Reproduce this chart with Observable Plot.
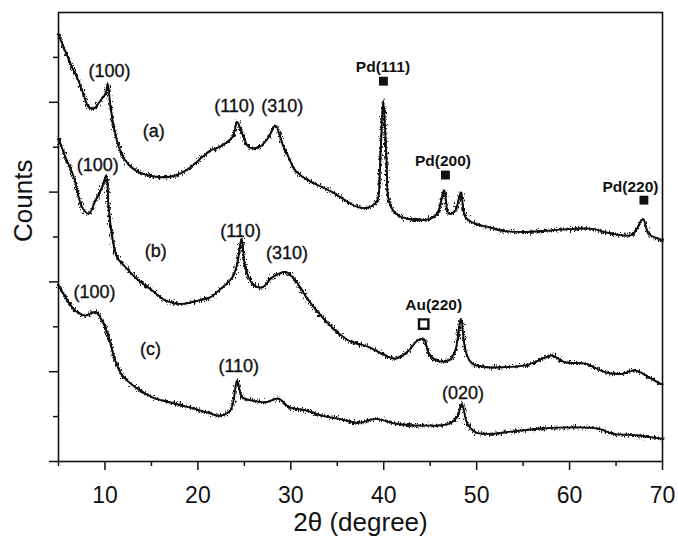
<!DOCTYPE html>
<html>
<head>
<meta charset="utf-8">
<script src="https://cdn.jsdelivr.net/npm/d3@7"></script>
<script src="https://cdn.jsdelivr.net/npm/@observablehq/plot@0.6"></script>
<style>
  html, body { margin: 0; padding: 0; background: #fff; }
  #chart svg { display: block; font-family: "Liberation Sans", Arial, sans-serif; }
</style>
</head>
<body>
<div id="chart"></div>
<script>
// Curve (a)
const aX = [5.0, 5.4, 5.9, 6.47, 7.0, 7.55, 8.26, 8.8, 9.52, 10.06, 10.3, 10.6, 10.95, 11.5, 12.2, 13.3, 14.7, 16.15, 17.6, 19.0, 20.47, 21.36, 22.26, 23.7, 24.23, 24.77, 25.5, 26.6, 27.6, 28.35, 29.1, 29.6, 30.5, 31.9, 33.4, 34.8, 35.9, 37.3, 38.4, 39.3, 39.55, 39.95, 40.3, 40.55, 41.3, 42.7, 44.85, 45.76, 46.5, 47.0, 47.7, 48.3, 48.8, 49.9, 51.3, 52.7, 55.25, 57.4, 60.3, 62.4, 64.6, 66.75, 67.9, 68.5, 69.8, 70.0];
const aY = [9.53, 9.3, 9.05, 8.78, 8.55, 8.26, 7.89, 7.86, 8.04, 8.19, 8.41, 7.89, 7.45, 7.0, 6.70, 6.48, 6.37, 6.33, 6.37, 6.52, 6.78, 6.93, 7.0, 7.22, 7.56, 7.3, 7.0, 7.0, 7.22, 7.48, 7.07, 6.85, 6.48, 6.26, 6.11, 5.96, 5.81, 5.66, 5.66, 5.81, 6.33, 8.04, 6.70, 5.81, 5.52, 5.40, 5.40, 5.52, 6.04, 5.52, 5.59, 6.0, 5.44, 5.29, 5.22, 5.14, 5.11, 5.14, 5.18, 5.18, 5.07, 5.05, 5.40, 5.07, 4.94, 4.92];
// Curve (b)
const bX = [5.0, 5.75, 6.65, 7.55, 8.26, 8.98, 9.7, 10.13, 10.4, 10.78, 11.3, 12.2, 13.64, 15.1, 16.5, 18.3, 20.1, 21.36, 22.26, 23.7, 24.23, 24.7, 25.1, 25.85, 26.9, 28.0, 29.4, 30.5, 31.9, 33.4, 34.8, 36.25, 37.3, 38.4, 39.8, 41.3, 42.7, 43.6, 44.3, 44.85, 45.6, 47.0, 47.7, 48.3, 48.8, 49.5, 51.3, 52.7, 55.25, 57.1, 58.1, 59.5, 61.7, 63.8, 65.6, 67.05, 68.5, 69.8, 70.0];
const bY = [7.2, 6.78, 6.33, 5.66, 5.52, 5.81, 6.11, 6.37, 5.66, 5.0, 4.55, 4.33, 4.03, 3.81, 3.59, 3.51, 3.59, 3.66, 3.81, 4.10, 4.40, 4.96, 4.33, 3.96, 3.88, 4.10, 4.22, 4.03, 3.59, 3.21, 2.92, 2.69, 2.62, 2.55, 2.40, 2.29, 2.47, 2.69, 2.73, 2.40, 2.25, 2.25, 2.47, 3.18, 2.47, 2.18, 2.10, 2.10, 2.14, 2.29, 2.36, 2.21, 2.18, 1.99, 1.95, 2.03, 1.88, 1.73, 1.72];
// Curve (c)
const cX = [5.0, 5.75, 6.8, 7.9, 8.98, 9.7, 10.4, 11.1, 11.85, 13.3, 15.1, 16.9, 19.0, 21.2, 22.26, 23.5, 24.23, 24.77, 25.85, 27.3, 28.7, 29.8, 31.6, 33.4, 35.2, 37.3, 39.1, 41.3, 44.1, 47.0, 47.9, 48.4, 49.0, 49.9, 52.0, 53.1, 56.7, 60.3, 63.1, 64.6, 67.4, 69.8, 70.0];
const cY = [3.92, 3.66, 3.36, 3.25, 3.33, 3.14, 2.77, 2.25, 1.92, 1.65, 1.43, 1.32, 1.21, 1.08, 1.02, 1.14, 1.80, 1.43, 1.36, 1.32, 1.40, 1.21, 1.14, 1.02, 0.95, 0.86, 0.95, 0.84, 0.80, 0.84, 0.99, 1.29, 0.84, 0.65, 0.62, 0.65, 0.73, 0.76, 0.73, 0.62, 0.58, 0.51, 0.51];

// Peak annotations
const millerText = ["(100)", "(a)", "(110)", "(310)", "(100)", "(b)", "(110)", "(310)", "(100)", "(c)", "(110)", "(020)"];
const millerX = [10.49, 15.26, 23.94, 29.07, 9.23, 15.47, 24.59, 29.6, 8.87, 14.9, 24.4, 48.52];
const millerY = [8.69, 7.36, 7.91, 7.91, 6.59, 4.68, 5.13, 4.63, 3.77, 2.49, 2.12, 1.51];

const pdText = ["Pd(111)", "Pd(200)", "Pd(220)", "Au(220)"];
const pdX = [39.92, 46.37, 66.55, 45.38];
const pdY = [8.78, 6.70, 6.12, 3.48];

const pdMarkX = [39.97, 46.64, 68.0];
const pdMarkY = [8.47, 6.38, 5.82];
const auMarkX = [44.3];
const auMarkY = [3.06];

const xMajor = [10, 20, 30, 40, 50, 60, 70];
const xMinor = [5, 15, 25, 35, 45, 55, 65];
const yMajor = [0, 2, 4, 6, 8];
const yMinor = [1, 3, 5, 7, 9];

const ink = "#111";
const noLabel = () => "";
const lineStyle = {stroke: ink, strokeWidth: 1.9, strokeLinejoin: "round", curve: "catmull-rom"};

const chart = Plot.plot({
  width: 678,
  height: 536,
  marginLeft: 58,
  marginRight: 16,
  marginTop: 12,
  marginBottom: 75,
  style: {fontFamily: '"Liberation Sans", Arial, sans-serif', color: ink, background: "#fff"},
  x: {domain: [5, 70]},
  y: {domain: [0, 10]},
  marks: [
    Plot.axisX({ticks: xMajor, tickSize: 9, tickPadding: 16, fontSize: 23, strokeWidth: 1.5, label: null}),
    Plot.axisX({ticks: xMinor, tickSize: 5, tickFormat: noLabel, strokeWidth: 1.5, label: null}),
    Plot.axisY({ticks: yMajor, tickSize: 9, tickFormat: noLabel, strokeWidth: 1.5, label: null}),
    Plot.axisY({ticks: yMinor, tickSize: 5, tickFormat: noLabel, strokeWidth: 1.5, label: null}),
    Plot.frame({stroke: ink, strokeWidth: 1.6}),
    Plot.line(aX, {x: aX, y: aY, ...lineStyle}),
    Plot.line(bX, {x: bX, y: bY, ...lineStyle}),
    Plot.line(cX, {x: cX, y: cY, ...lineStyle}),
    Plot.text(millerText, {x: millerX, y: millerY, text: d => d, fontSize: 18, fill: ink, stroke: ink, strokeWidth: 0.35}),
    Plot.text(pdText, {x: pdX, y: pdY, text: d => d, fontSize: 15.5, fontWeight: "bold", fill: ink}),
    Plot.dot(pdMarkX, {x: pdMarkX, y: pdMarkY, symbol: "square", r: 5, fill: ink, stroke: "none"}),
    Plot.dot(auMarkX, {x: auMarkX, y: auMarkY, symbol: "square", r: 5.3, fill: "none", stroke: ink, strokeWidth: 2.4}),
    Plot.text(["2θ (degree)"], {frameAnchor: "bottom", dy: 69, lineAnchor: "bottom", fontSize: 26, fill: ink}),
    Plot.text(["Counts"], {frameAnchor: "left", dx: -35, dy: 5, rotate: -90, fontSize: 26, fill: ink})
  ]
});

// Visual texture imitating the measurement noise of the XRD traces (styling only, data unchanged)
const svg = d3.select(chart);
const defs = svg.insert("defs", ":first-child");
const f = defs.append("filter").attr("id", "xrdnoise")
  .attr("filterUnits", "userSpaceOnUse").attr("x", 0).attr("y", 0).attr("width", 678).attr("height", 536);
f.append("feTurbulence").attr("type", "fractalNoise").attr("baseFrequency", "1.2 0.35")
  .attr("numOctaves", 2).attr("seed", 7).attr("result", "t");
f.append("feDisplacementMap").attr("in", "SourceGraphic").attr("in2", "t").attr("scale", 9)
  .attr("xChannelSelector", "R").attr("yChannelSelector", "G").attr("result", "d");
const m = f.append("feMerge");
m.append("feMergeNode").attr("in", "d");
m.append("feMergeNode").attr("in", "SourceGraphic");
svg.selectAll('g[aria-label="line"] path').attr("filter", "url(#xrdnoise)");

document.getElementById("chart").appendChild(chart);
</script>
</body>
</html>
